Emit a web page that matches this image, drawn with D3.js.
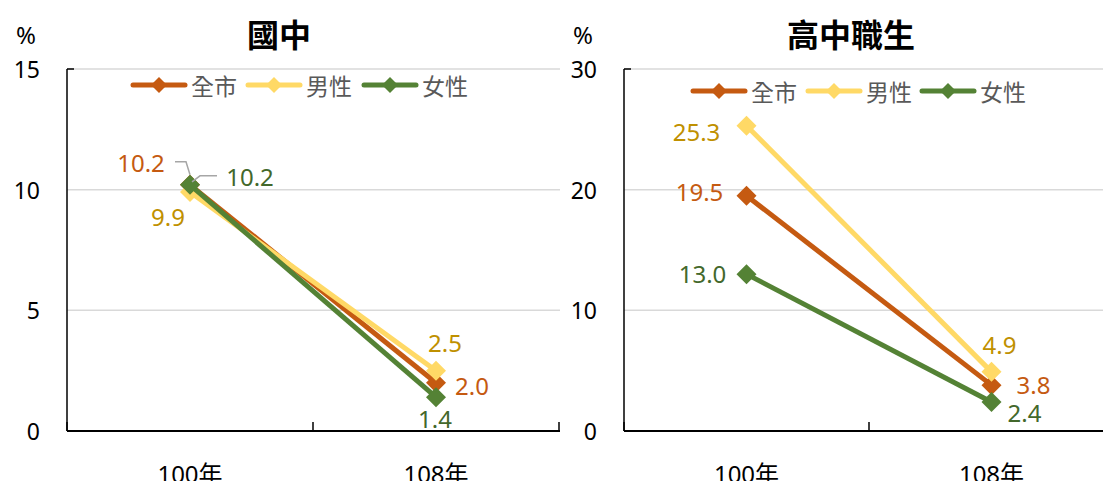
<!DOCTYPE html>
<html>
<head>
<meta charset="utf-8">
<script src="https://cdn.jsdelivr.net/npm/d3@7"></script>
<style>
  body { margin: 0; background: #fff; }
  svg { display: block; font-family: "Noto Sans", "Noto Sans CJK TC", sans-serif; }
</style>
</head>
<body>
<svg id="chart" width="1103" height="481"></svg>
<script>
// categories and series
const years = ["100年", "108年"];
const seriesNames = ["全市", "男性", "女性"];

// 國中
const juniorAll = [10.2, 2.0];
const juniorMale = [9.9, 2.5];
const juniorFemale = [10.2, 1.4];

// 高中職生
const seniorAll = [19.5, 3.8];
const seniorMale = [25.3, 4.9];
const seniorFemale = [13.0, 2.4];

const juniorTicks = [0, 5, 10, 15];
const seniorTicks = [0, 10, 20, 30];

const lineColors = ["#C55A11", "#FFD966", "#548235"];
const labelColors = ["#C55A11", "#BF9000", "#43682B"];

const svg = d3.select('#chart');

// diamond marker, square turned 45 degrees
function diamond(r) {
  return `M0,${-r}L${r},0L0,${r}L${-r},0Z`;
}

function drawPanel(opt) {
  const g = svg.append('g');

  const x = d3.scaleBand().domain(years).range([opt.left, opt.right]);
  const y = d3.scaleLinear().domain([0, d3.max(opt.ticks)]).range([431, 69]);

  // gridlines
  g.selectAll('.grid').data(opt.ticks.filter(t => t > 0)).join('line')
    .attr('x1', opt.left).attr('x2', opt.gridEnd)
    .attr('y1', d => y(d)).attr('y2', d => y(d))
    .attr('stroke', '#d9d9d9').attr('stroke-width', 1.5);

  // y tick labels
  g.selectAll('.ytl').data(opt.ticks).join('text')
    .attr('x', opt.left - 27).attr('y', d => y(d))
    .attr('text-anchor', 'end').attr('dominant-baseline', 'central')
    .attr('font-size', 23).attr('fill', '#000')
    .text(d => d);

  g.append('text')
    .attr('x', opt.left - 41).attr('y', 34)
    .attr('text-anchor', 'middle').attr('dominant-baseline', 'central')
    .attr('font-size', 24).text('%');

  // axes
  g.append('line').attr('x1', opt.left).attr('x2', opt.left)
    .attr('y1', 69).attr('y2', 431).attr('stroke', '#000').attr('stroke-width', 1.5);
  g.append('line').attr('x1', opt.left).attr('x2', opt.left + 7)
    .attr('y1', 69).attr('y2', 69).attr('stroke', '#000').attr('stroke-width', 1.5);
  g.append('line').attr('x1', opt.left).attr('x2', opt.gridEnd)
    .attr('y1', 431).attr('y2', 431).attr('stroke', '#000').attr('stroke-width', 2);

  const bounds = [opt.left].concat(years.map(d => x(d) + x.bandwidth()));
  g.selectAll('.xt').data(bounds).join('line')
    .attr('x1', d => d).attr('x2', d => d)
    .attr('y1', 422).attr('y2', 431)
    .attr('stroke', '#000').attr('stroke-width', 1.5);

  g.selectAll('.xtl').data(years).join('text')
    .attr('x', d => x(d) + x.bandwidth() / 2).attr('y', 483)
    .attr('text-anchor', 'middle').attr('font-size', 24)
    .text(d => d);

  // title
  g.append('text')
    .attr('x', opt.titleX).attr('y', 33)
    .attr('text-anchor', 'middle').attr('dominant-baseline', 'central')
    .attr('font-size', 32).attr('font-weight', 'bold')
    .attr('font-family', '"Noto Sans CJK TC", sans-serif')
    .text(opt.title);

  // legend
  const lg = g.selectAll('.lg').data(seriesNames).join('g')
    .attr('transform', (d, i) => `translate(${opt.legendX[i]},${opt.legendY})`);
  lg.append('line').attr('x1', 0).attr('x2', 52).attr('y1', 0).attr('y2', 0)
    .attr('stroke', (d, i) => lineColors[i]).attr('stroke-width', 5).attr('stroke-linecap', 'round');
  lg.append('path').attr('d', diamond(8)).attr('transform', 'translate(26,0)')
    .attr('fill', (d, i) => lineColors[i]);
  lg.append('text').attr('x', 58).attr('y', 0).attr('dominant-baseline', 'central')
    .attr('font-size', 23).attr('fill', '#595959')
    .attr('font-family', '"Noto Sans CJK TC", sans-serif')
    .text(d => d);

  const cx = d => x(d) + x.bandwidth() / 2;
  const line = d3.line().x(d => cx(d.year)).y(d => y(d.value));

  opt.series.forEach((vals, i) => {
    const pts = years.map((yr, j) => ({ year: yr, value: vals[j] }));
    g.append('path').datum(pts).attr('d', line)
      .attr('fill', 'none').attr('stroke', lineColors[i]).attr('stroke-width', 5);
    g.selectAll(null).data(pts).join('path')
      .attr('d', diamond(10))
      .attr('transform', d => `translate(${cx(d.year)},${y(d.value)})`)
      .attr('fill', lineColors[i]);
  });

  // leader lines
  (opt.leaders || []).forEach(l => {
    const px = cx(years[l.j]), py = y(opt.series[l.i][l.j]);
    g.append('polyline')
      .attr('points', l.pts.map(p => `${px + p[0]},${py + p[1]}`).join(' '))
      .attr('fill', 'none').attr('stroke', '#a6a6a6').attr('stroke-width', 1.5);
  });

  // data labels
  opt.series.forEach((vals, i) => {
    vals.forEach((v, j) => {
      const off = opt.offsets[i][j];
      g.append('text')
        .attr('x', cx(years[j]) + off[0]).attr('y', y(v) + off[1])
        .attr('text-anchor', 'middle').attr('dominant-baseline', 'central')
        .attr('font-size', 24).attr('fill', labelColors[i])
        .text(v.toFixed(1));
    });
  });
}

drawPanel({
  title: '國中', titleX: 279,
  left: 67, right: 559, gridEnd: 560,
  ticks: juniorTicks,
  series: [juniorAll, juniorMale, juniorFemale],
  legendX: [133, 248, 364], legendY: 85,
  offsets: [[[-49, -22], [36, 3]], [[-22, 24], [9, -28]], [[60, -8], [-1, 21]]],
  leaders: [
    { i: 0, j: 0, pts: [[-15, -23], [-4, -23], [0, -10]] },
    { i: 2, j: 0, pts: [[2, -3], [10, -9], [27, -9]] }
  ]
});

drawPanel({
  title: '高中職生', titleX: 851,
  left: 624, right: 1114, gridEnd: 1103,
  ticks: seniorTicks,
  series: [seniorAll, seniorMale, seniorFemale],
  legendX: [693, 808, 922], legendY: 91,
  offsets: [[[-47, -4], [42, -1]], [[-50, 6], [8, -27]], [[-44, -1], [33, 10]]]
});
</script>
</body>
</html>
